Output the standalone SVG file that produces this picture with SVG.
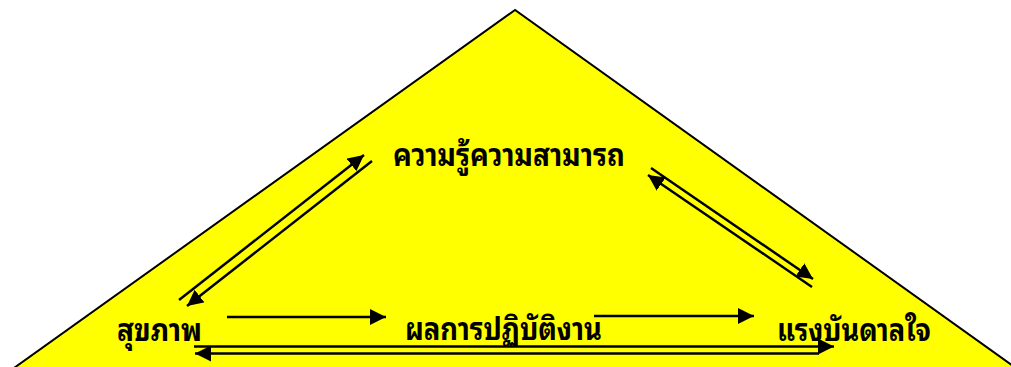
<svg xmlns="http://www.w3.org/2000/svg" width="1011" height="367" viewBox="0 0 1011 367">
  <style>
    .tri { fill: #ffff00; stroke: #000; stroke-width: 2; }
    .lbl { font-family: "Noto Sans Thai Looped", "Noto Serif Thai", "Noto Sans Thai", "Loma", "Garuda", "DejaVu Sans", sans-serif; font-weight: bold; font-size: 31px; fill: #000; }
    .conn line { stroke: #000; stroke-width: 2.5; fill: none; }
  </style>
  <defs>
    <marker id="ah" viewBox="0 0 16 16" markerUnits="userSpaceOnUse" markerWidth="16" markerHeight="16" refX="16" refY="8" orient="auto">
      <path d="M0,0 L16,8 L0,16 z" fill="#000"/>
    </marker>
  </defs>
  <rect width="1011" height="367" fill="#fff"/>
  <g id="triangle">
    <polygon class="tri" points="515,10 14,368 1016,368"/>
  </g>
  <g id="node-knowledge">
    <text class="lbl" x="393" y="166" textLength="232" lengthAdjust="spacingAndGlyphs">ความรู้ความสามารถ</text>
  </g>
  <g id="node-health">
    <text class="lbl" x="117" y="341" textLength="85" lengthAdjust="spacingAndGlyphs">สุขภาพ</text>
  </g>
  <g id="node-performance">
    <text class="lbl" x="405" y="340" textLength="197" lengthAdjust="spacingAndGlyphs">ผลการปฏิบัติงาน</text>
  </g>
  <g id="node-motivation">
    <text class="lbl" x="777" y="341" textLength="154" lengthAdjust="spacingAndGlyphs">แรงบันดาลใจ</text>
  </g>
  <g id="connectors" class="conn">
    <line x1="179" y1="300" x2="364" y2="155" marker-end="url(#ah)"/>
    <line x1="372" y1="161" x2="187" y2="306" marker-end="url(#ah)"/>
    <line x1="651" y1="168" x2="813" y2="279" marker-end="url(#ah)"/>
    <line x1="812" y1="287" x2="648" y2="175" marker-end="url(#ah)"/>
    <line x1="227" y1="317" x2="386" y2="317" marker-end="url(#ah)"/>
    <line x1="594" y1="316" x2="754" y2="316" marker-end="url(#ah)"/>
    <line x1="194" y1="346.5" x2="834" y2="346.5" marker-end="url(#ah)"/>
    <line x1="819" y1="353.5" x2="195" y2="353.5" marker-end="url(#ah)"/>
  </g>
</svg>
